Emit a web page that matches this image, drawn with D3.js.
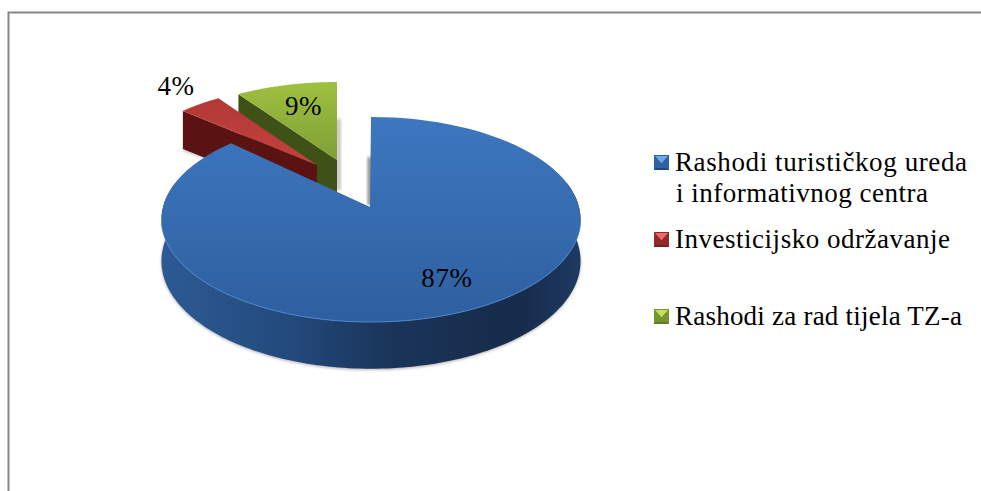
<!DOCTYPE html>
<html><head><meta charset="utf-8">
<script src="https://cdn.jsdelivr.net/npm/d3@7"></script>
<style>html,body{margin:0;padding:0;background:#fff}svg{display:block}text{font-family:"Liberation Serif",serif;fill:#000}</style>
</head><body><div id="c"></div>
<script>
const categories=["Rashodi turističkog ureda|i informativnog centra","Investicijsko održavanje","Rashodi za rad tijela TZ-a"];
const values=[87,4,9];
const percentLabels=["87%","4%","9%"];
const W=981,H=491;
const svg=d3.select("#c").append("svg").attr("width",W).attr("height",H);
const defs=svg.append("defs");
function grad(id,stops,h){const g=defs.append("linearGradient").attr("id",id).attr("x1",0).attr("y1",0).attr("x2",h?1:0).attr("y2",h?0:1);
 stops.forEach(([o,c])=>g.append("stop").attr("offset",o).attr("stop-color",c));}
grad("blueTop",[[0,"#3d77c0"],[1,"#2e5f9f"]]);
grad("blueWall",[[0,"#2d5a94"],[.3,"#234a7c"],[.55,"#1a3459"],[.85,"#172b4a"],[1,"#1d3a62"]],true);
grad("redTop",[[0,"#b23937"],[1,"#c4413d"]]);
grad("greenTop",[[0,"#9fc03f"],[1,"#7f9f37"]]);
const blur=defs.append("filter").attr("id","sh").attr("x","-20%").attr("y","-10%").attr("width","140%").attr("height","120%");
blur.append("feGaussianBlur").attr("stdDeviation",1.6);

// frame: only top and left are drawn in the source
svg.append("path").attr("d","M8.5,491V12.5H981").attr("fill","none").attr("stroke","#868686").attr("stroke-width",2);

const pie=d3.pie().sort(null).value(d=>d);
const arcs=pie(values);
const line=d3.line();
const K=0.122;
// perspective projection of a disc point
function proj(a,cfg,r=1,dy=0){const u=Math.sin(a)*r,v=Math.cos(a)*r,s=1/(1+cfg.k*v);
 return [cfg.x+(u*cfg.rx*s)+ (r?cfg.rimDx:0), cfg.y-v*cfg.ry*s+dy*s];}
const blue={x:370,y:207,rx:208,ry:101,k:K,rimDx:1};
const red={x:317,y:165,rx:184,ry:79,k:0,rimDx:0};
const green={x:337,y:160,rx:184,ry:78,k:0,rimDx:0};
const sample=(a0,a1,n=90)=>d3.range(n+1).map(i=>a0+(a1-a0)*i/n);
function topPath(d,c){return line([[c.x,c.y],...sample(d.startAngle,d.endAngle).map(a=>proj(a,c))])+"Z";}

const g=svg.append("g");
// soft shadows
const DB=41, DS=38;
const frontA=sample(Math.PI*0.5-0.12,Math.PI*1.5+0.12,120);
g.append("path").attr("filter","url(#sh)").attr("fill","#b0b0b0")
 .attr("d",line(frontA.map(a=>proj(a,blue,1,DB+1)))+"Z");
g.append("path").attr("filter","url(#sh)").attr("fill","#c8c8c8")
 .attr("d",line([[336,119],[336,190],[341,190],[341,119]])+"Z");
g.append("path").attr("filter","url(#sh)").attr("fill","#909090")
 .attr("d",line([[367.5,157],[367.5,205],[372,205],[372,157]])+"Z");
g.append("path").attr("filter","url(#sh)").attr("fill","#c4c4c4")
 .attr("d",line([[183,148],[183,151],[203,158],[210,155]])+"Z");

// green slice
function wall(c,a,d,fill){const p=proj(a,c);
 g.append("path").attr("fill",fill).attr("d",line([[c.x,c.y],p,[p[0],p[1]+d],[c.x,c.y+d]])+"Z");}
wall(green,arcs[2].startAngle,DS,"#3e5218");
g.append("path").attr("fill","url(#greenTop)").attr("d",topPath(arcs[2],green));
wall(red,arcs[1].startAngle,DS,"#5a1212");
g.append("path").attr("fill","url(#redTop)").attr("d",topPath(arcs[1],red));

// blue slice wall then top
const wallA=sample(Math.PI*0.42,Math.PI*1.58,160);
g.append("path").attr("fill","url(#blueWall)")
 .attr("d",line([...wallA.map(a=>proj(a,blue)),...wallA.slice().reverse().map(a=>proj(a,blue,1,DB))])+"Z");
g.append("path").attr("fill","url(#blueTop)").attr("d",topPath(arcs[0],blue));
g.append("path").attr("fill","none").attr("stroke","#4c86cc").attr("stroke-width",1)
 .attr("d",line(sample(Math.PI*0.55,Math.PI*1.45,100).map(a=>proj(a,blue))));

// data labels
const labelPos=[[447,287],[176,95],[303.5,115]];
g.selectAll("text.lab").data(percentLabels).join("text").attr("class","lab")
 .attr("x",(d,i)=>labelPos[i][0]).attr("y",(d,i)=>labelPos[i][1]).attr("text-anchor","middle")
 .attr("font-size",27).attr("letter-spacing",0.6).text(d=>d);

// legend
const legendColors=[["#2f629f","#6fa8e8","#1f4a82"],["#8f2b29","#ee6a66","#7a2020"],["#76942f","#c4e05c","#5f7a24"]];
const legendY=[171,248,325];
const legendWidths=[[292,252],[275],[287]];
const lg=svg.append("g");
categories.forEach((cat,i)=>{
 const y=legendY[i],x=654,t=y-16,sz=15,[m,l,dk]=legendColors[i];
 lg.append("rect").attr("x",x).attr("y",t).attr("width",sz).attr("height",sz).attr("fill",m);
 lg.append("path").attr("fill",l).attr("d",line([[x+1,t+1],[x+sz-1,t+1],[x+sz/2,t+sz*0.55]])+"Z");
 lg.append("path").attr("fill",dk).attr("d",line([[x,t+sz],[x+sz,t+sz],[x+sz-2,t+sz-2],[x+2,t+sz-2]])+"Z");
 cat.split("|").forEach((s,j)=>lg.append("text").attr("x",j?676:675).attr("y",y+j*31).attr("font-size",27)
   .attr("textLength",legendWidths[i][j]).attr("lengthAdjust","spacing").text(s));
});
</script></body></html>
